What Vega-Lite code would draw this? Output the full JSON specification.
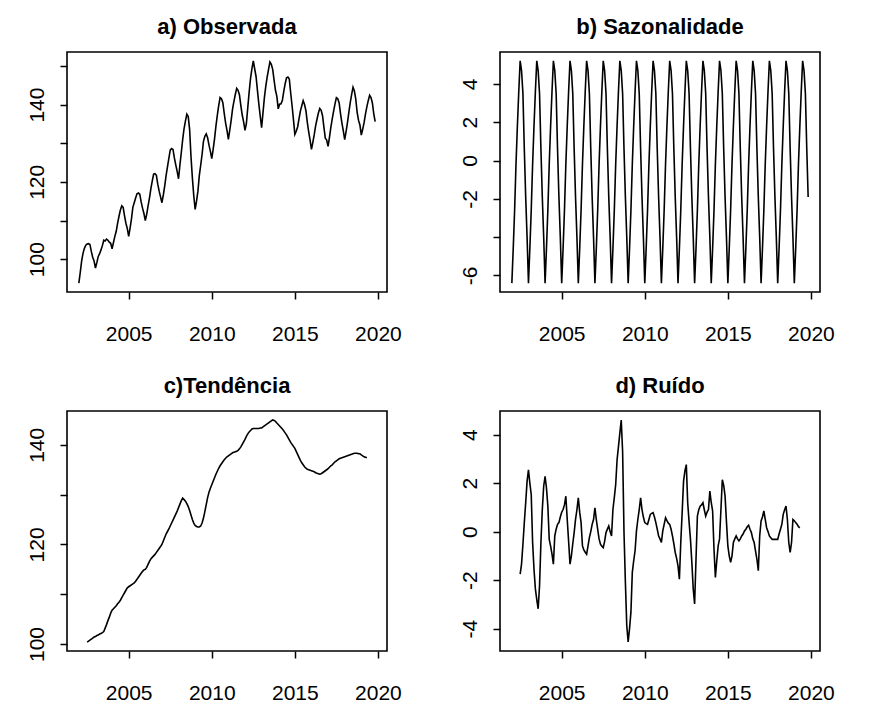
{
  "$schema": "https://vega.github.io/schema/vega-lite/v6.json",
  "autosize": {"type": "none"},
  "padding": {"left": 67, "top": 52, "right": 810, "bottom": 657},
  "background": "white",
  "data": {"values": [
    {"t": 2002.0000, "obs": 93.8, "saz": -6.4, "tend": null, "ruido": null},
    {"t": 2002.0833, "obs": 96.5, "saz": -4.6, "tend": null, "ruido": null},
    {"t": 2002.1667, "obs": 99.5, "saz": -2.6, "tend": null, "ruido": null},
    {"t": 2002.2500, "obs": 101.5, "saz": -0.2, "tend": null, "ruido": null},
    {"t": 2002.3333, "obs": 102.8, "saz": 1.8, "tend": null, "ruido": null},
    {"t": 2002.4167, "obs": 103.6, "saz": 3.6, "tend": null, "ruido": null},
    {"t": 2002.5000, "obs": 103.9, "saz": 5.2, "tend": 100.4, "ruido": -1.75},
    {"t": 2002.5833, "obs": 104.0, "saz": 4.7, "tend": 100.6, "ruido": -1.34},
    {"t": 2002.6667, "obs": 103.8, "saz": 3.5, "tend": 100.8, "ruido": -0.52},
    {"t": 2002.7500, "obs": 102.0, "saz": 0.6, "tend": 101.0, "ruido": 0.37},
    {"t": 2002.8333, "obs": 100.5, "saz": -1.9, "tend": 101.2, "ruido": 1.19},
    {"t": 2002.9167, "obs": 99.5, "saz": -4.0, "tend": 101.4, "ruido": 2.07},
    {"t": 2003.0000, "obs": 97.7, "saz": -6.4, "tend": 101.5, "ruido": 2.55},
    {"t": 2003.0833, "obs": 99.1, "saz": -4.6, "tend": 101.7, "ruido": 2.0},
    {"t": 2003.1667, "obs": 100.7, "saz": -2.6, "tend": 101.8, "ruido": 1.53},
    {"t": 2003.2500, "obs": 101.4, "saz": -0.2, "tend": 102.0, "ruido": -0.45},
    {"t": 2003.3333, "obs": 102.4, "saz": 1.8, "tend": 102.1, "ruido": -1.55},
    {"t": 2003.4167, "obs": 103.5, "saz": 3.6, "tend": 102.3, "ruido": -2.36},
    {"t": 2003.5000, "obs": 104.9, "saz": 5.2, "tend": 102.5, "ruido": -2.8},
    {"t": 2003.5833, "obs": 104.7, "saz": 4.7, "tend": 103.2, "ruido": -3.18},
    {"t": 2003.6667, "obs": 105.2, "saz": 3.5, "tend": 103.9, "ruido": -2.23},
    {"t": 2003.7500, "obs": 104.9, "saz": 0.6, "tend": 104.7, "ruido": -0.45},
    {"t": 2003.8333, "obs": 104.4, "saz": -1.9, "tend": 105.4, "ruido": 0.91},
    {"t": 2003.9167, "obs": 104.1, "saz": -4.0, "tend": 106.2, "ruido": 1.87},
    {"t": 2004.0000, "obs": 102.7, "saz": -6.4, "tend": 106.8, "ruido": 2.28},
    {"t": 2004.0833, "obs": 104.3, "saz": -4.6, "tend": 107.1, "ruido": 1.8},
    {"t": 2004.1667, "obs": 105.9, "saz": -2.6, "tend": 107.4, "ruido": 1.05},
    {"t": 2004.2500, "obs": 107.2, "saz": -0.2, "tend": 107.7, "ruido": -0.32},
    {"t": 2004.3333, "obs": 109.3, "saz": 1.8, "tend": 108.1, "ruido": -0.6},
    {"t": 2004.4167, "obs": 111.1, "saz": 3.6, "tend": 108.4, "ruido": -0.93},
    {"t": 2004.5000, "obs": 112.7, "saz": 5.2, "tend": 108.8, "ruido": -1.34},
    {"t": 2004.5833, "obs": 113.8, "saz": 4.7, "tend": 109.3, "ruido": -0.18},
    {"t": 2004.6667, "obs": 113.4, "saz": 3.5, "tend": 109.8, "ruido": 0.1},
    {"t": 2004.7500, "obs": 111.2, "saz": 0.6, "tend": 110.3, "ruido": 0.3},
    {"t": 2004.8333, "obs": 109.3, "saz": -1.9, "tend": 110.8, "ruido": 0.37},
    {"t": 2004.9167, "obs": 107.9, "saz": -4.0, "tend": 111.3, "ruido": 0.6},
    {"t": 2005.0000, "obs": 105.9, "saz": -6.4, "tend": 111.5, "ruido": 0.8},
    {"t": 2005.0833, "obs": 108.0, "saz": -4.6, "tend": 111.7, "ruido": 0.91},
    {"t": 2005.1667, "obs": 110.4, "saz": -2.6, "tend": 111.9, "ruido": 1.1},
    {"t": 2005.2500, "obs": 113.4, "saz": -0.2, "tend": 112.1, "ruido": 1.46},
    {"t": 2005.3333, "obs": 114.6, "saz": 1.8, "tend": 112.3, "ruido": 0.5},
    {"t": 2005.4167, "obs": 115.8, "saz": 3.6, "tend": 112.6, "ruido": -0.4},
    {"t": 2005.5000, "obs": 116.9, "saz": 5.2, "tend": 113.0, "ruido": -1.34},
    {"t": 2005.5833, "obs": 117.1, "saz": 4.7, "tend": 113.4, "ruido": -1.0},
    {"t": 2005.6667, "obs": 116.8, "saz": 3.5, "tend": 113.8, "ruido": -0.5},
    {"t": 2005.7500, "obs": 114.8, "saz": 0.6, "tend": 114.2, "ruido": -0.04},
    {"t": 2005.8333, "obs": 113.2, "saz": -1.9, "tend": 114.6, "ruido": 0.5},
    {"t": 2005.9167, "obs": 111.8, "saz": -4.0, "tend": 114.9, "ruido": 0.9},
    {"t": 2006.0000, "obs": 110.0, "saz": -6.4, "tend": 115.0, "ruido": 1.39},
    {"t": 2006.0833, "obs": 111.6, "saz": -4.6, "tend": 115.4, "ruido": 0.8},
    {"t": 2006.1667, "obs": 113.8, "saz": -2.6, "tend": 116.0, "ruido": 0.37},
    {"t": 2006.2500, "obs": 115.8, "saz": -0.2, "tend": 116.6, "ruido": -0.59},
    {"t": 2006.3333, "obs": 118.2, "saz": 1.8, "tend": 117.1, "ruido": -0.75},
    {"t": 2006.4167, "obs": 120.2, "saz": 3.6, "tend": 117.4, "ruido": -0.85},
    {"t": 2006.5000, "obs": 122.0, "saz": 5.2, "tend": 117.7, "ruido": -0.93},
    {"t": 2006.5833, "obs": 122.1, "saz": 4.7, "tend": 118.0, "ruido": -0.6},
    {"t": 2006.6667, "obs": 121.7, "saz": 3.5, "tend": 118.4, "ruido": -0.25},
    {"t": 2006.7500, "obs": 119.4, "saz": 0.6, "tend": 118.8, "ruido": 0.0},
    {"t": 2006.8333, "obs": 117.6, "saz": -1.9, "tend": 119.2, "ruido": 0.3},
    {"t": 2006.9167, "obs": 116.1, "saz": -4.0, "tend": 119.6, "ruido": 0.5},
    {"t": 2007.0000, "obs": 114.6, "saz": -6.4, "tend": 120.0, "ruido": 0.98},
    {"t": 2007.0833, "obs": 116.6, "saz": -4.6, "tend": 120.7, "ruido": 0.5},
    {"t": 2007.1667, "obs": 118.9, "saz": -2.6, "tend": 121.4, "ruido": 0.09},
    {"t": 2007.2500, "obs": 121.6, "saz": -0.2, "tend": 122.1, "ruido": -0.3},
    {"t": 2007.3333, "obs": 123.9, "saz": 1.8, "tend": 122.6, "ruido": -0.52},
    {"t": 2007.4167, "obs": 126.1, "saz": 3.6, "tend": 123.1, "ruido": -0.6},
    {"t": 2007.5000, "obs": 128.2, "saz": 5.2, "tend": 123.7, "ruido": -0.66},
    {"t": 2007.5833, "obs": 128.6, "saz": 4.7, "tend": 124.3, "ruido": -0.4},
    {"t": 2007.6667, "obs": 128.4, "saz": 3.5, "tend": 124.9, "ruido": -0.04},
    {"t": 2007.7500, "obs": 126.2, "saz": 0.6, "tend": 125.5, "ruido": 0.1},
    {"t": 2007.8333, "obs": 124.4, "saz": -1.9, "tend": 126.1, "ruido": 0.23},
    {"t": 2007.9167, "obs": 122.7, "saz": -4.0, "tend": 126.7, "ruido": 0.0},
    {"t": 2008.0000, "obs": 120.8, "saz": -6.4, "tend": 127.4, "ruido": -0.18},
    {"t": 2008.0833, "obs": 124.4, "saz": -4.6, "tend": 128.1, "ruido": 0.91},
    {"t": 2008.1667, "obs": 127.6, "saz": -2.6, "tend": 128.8, "ruido": 1.4},
    {"t": 2008.2500, "obs": 131.0, "saz": -0.2, "tend": 129.3, "ruido": 1.94},
    {"t": 2008.3333, "obs": 133.8, "saz": 1.8, "tend": 129.0, "ruido": 2.96},
    {"t": 2008.4167, "obs": 135.8, "saz": 3.6, "tend": 128.7, "ruido": 3.5},
    {"t": 2008.5000, "obs": 137.5, "saz": 5.2, "tend": 128.2, "ruido": 4.06},
    {"t": 2008.5833, "obs": 136.9, "saz": 4.7, "tend": 127.6, "ruido": 4.6},
    {"t": 2008.6667, "obs": 133.6, "saz": 3.5, "tend": 126.8, "ruido": 3.3},
    {"t": 2008.7500, "obs": 126.5, "saz": 0.6, "tend": 125.9, "ruido": -0.04},
    {"t": 2008.8333, "obs": 121.0, "saz": -1.9, "tend": 125.0, "ruido": -2.09},
    {"t": 2008.9167, "obs": 116.4, "saz": -4.0, "tend": 124.3, "ruido": -3.87},
    {"t": 2009.0000, "obs": 112.9, "saz": -6.4, "tend": 123.8, "ruido": -4.55},
    {"t": 2009.0833, "obs": 115.0, "saz": -4.6, "tend": 123.6, "ruido": -4.0},
    {"t": 2009.1667, "obs": 117.6, "saz": -2.6, "tend": 123.5, "ruido": -3.32},
    {"t": 2009.2500, "obs": 121.6, "saz": -0.2, "tend": 123.5, "ruido": -1.68},
    {"t": 2009.3333, "obs": 124.3, "saz": 1.8, "tend": 123.7, "ruido": -1.2},
    {"t": 2009.4167, "obs": 127.1, "saz": 3.6, "tend": 124.3, "ruido": -0.79},
    {"t": 2009.5000, "obs": 130.5, "saz": 5.2, "tend": 125.3, "ruido": 0.03},
    {"t": 2009.5833, "obs": 131.8, "saz": 4.7, "tend": 126.6, "ruido": 0.5},
    {"t": 2009.6667, "obs": 132.4, "saz": 3.5, "tend": 128.0, "ruido": 0.91},
    {"t": 2009.7500, "obs": 131.4, "saz": 0.6, "tend": 129.4, "ruido": 1.39},
    {"t": 2009.8333, "obs": 129.5, "saz": -1.9, "tend": 130.5, "ruido": 0.91},
    {"t": 2009.9167, "obs": 127.9, "saz": -4.0, "tend": 131.3, "ruido": 0.6},
    {"t": 2010.0000, "obs": 126.0, "saz": -6.4, "tend": 132.0, "ruido": 0.37},
    {"t": 2010.0833, "obs": 128.4, "saz": -4.6, "tend": 132.7, "ruido": 0.33},
    {"t": 2010.1667, "obs": 131.1, "saz": -2.6, "tend": 133.4, "ruido": 0.3},
    {"t": 2010.2500, "obs": 134.4, "saz": -0.2, "tend": 134.1, "ruido": 0.5},
    {"t": 2010.3333, "obs": 137.2, "saz": 1.8, "tend": 134.7, "ruido": 0.71},
    {"t": 2010.4167, "obs": 139.7, "saz": 3.6, "tend": 135.3, "ruido": 0.75},
    {"t": 2010.5000, "obs": 141.8, "saz": 5.2, "tend": 135.8, "ruido": 0.78},
    {"t": 2010.5833, "obs": 141.5, "saz": 4.7, "tend": 136.2, "ruido": 0.6},
    {"t": 2010.6667, "obs": 140.5, "saz": 3.5, "tend": 136.6, "ruido": 0.37},
    {"t": 2010.7500, "obs": 137.7, "saz": 0.6, "tend": 137.0, "ruido": 0.1},
    {"t": 2010.8333, "obs": 135.2, "saz": -1.9, "tend": 137.3, "ruido": -0.18},
    {"t": 2010.9167, "obs": 133.3, "saz": -4.0, "tend": 137.6, "ruido": -0.3},
    {"t": 2011.0000, "obs": 131.0, "saz": -6.4, "tend": 137.8, "ruido": -0.45},
    {"t": 2011.0833, "obs": 133.4, "saz": -4.6, "tend": 138.0, "ruido": 0.03},
    {"t": 2011.1667, "obs": 135.9, "saz": -2.6, "tend": 138.2, "ruido": 0.3},
    {"t": 2011.2500, "obs": 138.8, "saz": -0.2, "tend": 138.4, "ruido": 0.57},
    {"t": 2011.3333, "obs": 140.8, "saz": 1.8, "tend": 138.5, "ruido": 0.45},
    {"t": 2011.4167, "obs": 142.6, "saz": 3.6, "tend": 138.6, "ruido": 0.35},
    {"t": 2011.5000, "obs": 144.2, "saz": 5.2, "tend": 138.7, "ruido": 0.3},
    {"t": 2011.5833, "obs": 143.7, "saz": 4.7, "tend": 138.9, "ruido": 0.1},
    {"t": 2011.6667, "obs": 142.5, "saz": 3.5, "tend": 139.2, "ruido": -0.18},
    {"t": 2011.7500, "obs": 139.7, "saz": 0.6, "tend": 139.6, "ruido": -0.5},
    {"t": 2011.8333, "obs": 137.3, "saz": -1.9, "tend": 140.1, "ruido": -0.86},
    {"t": 2011.9167, "obs": 135.5, "saz": -4.0, "tend": 140.6, "ruido": -1.1},
    {"t": 2012.0000, "obs": 133.3, "saz": -6.4, "tend": 141.1, "ruido": -1.41},
    {"t": 2012.0833, "obs": 135.1, "saz": -4.6, "tend": 141.7, "ruido": -1.96},
    {"t": 2012.1667, "obs": 139.2, "saz": -2.6, "tend": 142.2, "ruido": -0.45},
    {"t": 2012.2500, "obs": 143.2, "saz": -0.2, "tend": 142.6, "ruido": 0.78},
    {"t": 2012.3333, "obs": 146.8, "saz": 1.8, "tend": 142.9, "ruido": 2.07},
    {"t": 2012.4167, "obs": 149.3, "saz": 3.6, "tend": 143.2, "ruido": 2.5},
    {"t": 2012.5000, "obs": 151.3, "saz": 5.2, "tend": 143.3, "ruido": 2.76},
    {"t": 2012.5833, "obs": 149.2, "saz": 4.7, "tend": 143.3, "ruido": 1.19},
    {"t": 2012.6667, "obs": 147.2, "saz": 3.5, "tend": 143.3, "ruido": 0.4},
    {"t": 2012.7500, "obs": 143.6, "saz": 0.6, "tend": 143.3, "ruido": -0.32},
    {"t": 2012.8333, "obs": 140.1, "saz": -1.9, "tend": 143.3, "ruido": -1.27},
    {"t": 2012.9167, "obs": 137.0, "saz": -4.0, "tend": 143.4, "ruido": -2.36},
    {"t": 2013.0000, "obs": 134.0, "saz": -6.4, "tend": 143.4, "ruido": -2.98},
    {"t": 2013.0833, "obs": 137.9, "saz": -4.6, "tend": 143.6, "ruido": -1.14},
    {"t": 2013.1667, "obs": 141.8, "saz": -2.6, "tend": 143.8, "ruido": 0.64},
    {"t": 2013.2500, "obs": 144.7, "saz": -0.2, "tend": 144.0, "ruido": 0.9},
    {"t": 2013.3333, "obs": 147.1, "saz": 1.8, "tend": 144.2, "ruido": 1.05},
    {"t": 2013.4167, "obs": 149.1, "saz": 3.6, "tend": 144.4, "ruido": 1.1},
    {"t": 2013.5000, "obs": 151.0, "saz": 5.2, "tend": 144.6, "ruido": 1.19},
    {"t": 2013.5833, "obs": 150.4, "saz": 4.7, "tend": 144.8, "ruido": 0.9},
    {"t": 2013.6667, "obs": 149.1, "saz": 3.5, "tend": 145.0, "ruido": 0.64},
    {"t": 2013.7500, "obs": 146.3, "saz": 0.6, "tend": 144.9, "ruido": 0.8},
    {"t": 2013.8333, "obs": 143.7, "saz": -1.9, "tend": 144.7, "ruido": 0.91},
    {"t": 2013.9167, "obs": 142.1, "saz": -4.0, "tend": 144.4, "ruido": 1.67},
    {"t": 2014.0000, "obs": 138.9, "saz": -6.4, "tend": 144.1, "ruido": 1.2},
    {"t": 2014.0833, "obs": 140.1, "saz": -4.6, "tend": 143.8, "ruido": 0.85},
    {"t": 2014.1667, "obs": 140.2, "saz": -2.6, "tend": 143.5, "ruido": -0.73},
    {"t": 2014.2500, "obs": 141.1, "saz": -0.2, "tend": 143.2, "ruido": -1.89},
    {"t": 2014.3333, "obs": 143.4, "saz": 1.8, "tend": 142.8, "ruido": -1.2},
    {"t": 2014.4167, "obs": 145.4, "saz": 3.6, "tend": 142.4, "ruido": -0.59},
    {"t": 2014.5000, "obs": 146.9, "saz": 5.2, "tend": 142.0, "ruido": -0.3},
    {"t": 2014.5833, "obs": 147.1, "saz": 4.7, "tend": 141.5, "ruido": 0.9},
    {"t": 2014.6667, "obs": 146.6, "saz": 3.5, "tend": 141.0, "ruido": 2.14},
    {"t": 2014.7500, "obs": 143.0, "saz": 0.6, "tend": 140.5, "ruido": 1.9},
    {"t": 2014.8333, "obs": 139.7, "saz": -1.9, "tend": 140.1, "ruido": 1.46},
    {"t": 2014.9167, "obs": 136.1, "saz": -4.0, "tend": 139.7, "ruido": 0.4},
    {"t": 2015.0000, "obs": 132.3, "saz": -6.4, "tend": 139.3, "ruido": -0.59},
    {"t": 2015.0833, "obs": 133.1, "saz": -4.6, "tend": 138.7, "ruido": -1.0},
    {"t": 2015.1667, "obs": 134.2, "saz": -2.6, "tend": 138.1, "ruido": -1.27},
    {"t": 2015.2500, "obs": 136.3, "saz": -0.2, "tend": 137.5, "ruido": -1.0},
    {"t": 2015.3333, "obs": 138.3, "saz": 1.8, "tend": 136.9, "ruido": -0.45},
    {"t": 2015.4167, "obs": 139.7, "saz": 3.6, "tend": 136.4, "ruido": -0.3},
    {"t": 2015.5000, "obs": 141.0, "saz": 5.2, "tend": 136.0, "ruido": -0.18},
    {"t": 2015.5833, "obs": 140.0, "saz": 4.7, "tend": 135.6, "ruido": -0.3},
    {"t": 2015.6667, "obs": 138.4, "saz": 3.5, "tend": 135.3, "ruido": -0.38},
    {"t": 2015.7500, "obs": 135.4, "saz": 0.6, "tend": 135.1, "ruido": -0.3},
    {"t": 2015.8333, "obs": 132.9, "saz": -1.9, "tend": 135.0, "ruido": -0.18},
    {"t": 2015.9167, "obs": 130.8, "saz": -4.0, "tend": 134.9, "ruido": -0.1},
    {"t": 2016.0000, "obs": 128.4, "saz": -6.4, "tend": 134.8, "ruido": 0.03},
    {"t": 2016.0833, "obs": 130.2, "saz": -4.6, "tend": 134.7, "ruido": 0.1},
    {"t": 2016.1667, "obs": 132.2, "saz": -2.6, "tend": 134.6, "ruido": 0.2},
    {"t": 2016.2500, "obs": 134.5, "saz": -0.2, "tend": 134.4, "ruido": 0.26},
    {"t": 2016.3333, "obs": 136.2, "saz": 1.8, "tend": 134.3, "ruido": 0.1},
    {"t": 2016.4167, "obs": 137.8, "saz": 3.6, "tend": 134.2, "ruido": -0.04},
    {"t": 2016.5000, "obs": 139.0, "saz": 5.2, "tend": 134.1, "ruido": -0.3},
    {"t": 2016.5833, "obs": 138.5, "saz": 4.7, "tend": 134.2, "ruido": -0.45},
    {"t": 2016.6667, "obs": 137.1, "saz": 3.5, "tend": 134.4, "ruido": -0.8},
    {"t": 2016.7500, "obs": 134.1, "saz": 0.6, "tend": 134.6, "ruido": -1.14},
    {"t": 2016.8333, "obs": 131.3, "saz": -1.9, "tend": 134.8, "ruido": -1.61},
    {"t": 2016.9167, "obs": 130.8, "saz": -4.0, "tend": 135.0, "ruido": -0.18},
    {"t": 2017.0000, "obs": 129.2, "saz": -6.4, "tend": 135.2, "ruido": 0.44},
    {"t": 2017.0833, "obs": 131.5, "saz": -4.6, "tend": 135.5, "ruido": 0.6},
    {"t": 2017.1667, "obs": 134.1, "saz": -2.6, "tend": 135.8, "ruido": 0.85},
    {"t": 2017.2500, "obs": 136.3, "saz": -0.2, "tend": 136.0, "ruido": 0.5},
    {"t": 2017.3333, "obs": 138.3, "saz": 1.8, "tend": 136.3, "ruido": 0.16},
    {"t": 2017.4167, "obs": 140.2, "saz": 3.6, "tend": 136.6, "ruido": 0.0},
    {"t": 2017.5000, "obs": 141.8, "saz": 5.2, "tend": 136.8, "ruido": -0.18},
    {"t": 2017.5833, "obs": 141.5, "saz": 4.7, "tend": 137.0, "ruido": -0.25},
    {"t": 2017.6667, "obs": 140.4, "saz": 3.5, "tend": 137.2, "ruido": -0.32},
    {"t": 2017.7500, "obs": 137.6, "saz": 0.6, "tend": 137.3, "ruido": -0.32},
    {"t": 2017.8333, "obs": 135.2, "saz": -1.9, "tend": 137.4, "ruido": -0.32},
    {"t": 2017.9167, "obs": 133.2, "saz": -4.0, "tend": 137.5, "ruido": -0.32},
    {"t": 2018.0000, "obs": 130.9, "saz": -6.4, "tend": 137.6, "ruido": -0.32},
    {"t": 2018.0833, "obs": 133.0, "saz": -4.6, "tend": 137.7, "ruido": -0.1},
    {"t": 2018.1667, "obs": 135.3, "saz": -2.6, "tend": 137.8, "ruido": 0.1},
    {"t": 2018.2500, "obs": 138.0, "saz": -0.2, "tend": 137.9, "ruido": 0.3},
    {"t": 2018.3333, "obs": 140.5, "saz": 1.8, "tend": 138.0, "ruido": 0.71},
    {"t": 2018.4167, "obs": 142.6, "saz": 3.6, "tend": 138.1, "ruido": 0.9},
    {"t": 2018.5000, "obs": 144.5, "saz": 5.2, "tend": 138.2, "ruido": 1.05},
    {"t": 2018.5833, "obs": 143.5, "saz": 4.7, "tend": 138.3, "ruido": 0.5},
    {"t": 2018.6667, "obs": 141.4, "saz": 3.5, "tend": 138.3, "ruido": -0.45},
    {"t": 2018.7500, "obs": 138.0, "saz": 0.6, "tend": 138.3, "ruido": -0.86},
    {"t": 2018.8333, "obs": 135.9, "saz": -1.9, "tend": 138.2, "ruido": -0.45},
    {"t": 2018.9167, "obs": 134.7, "saz": -4.0, "tend": 138.2, "ruido": 0.5},
    {"t": 2019.0000, "obs": 132.1, "saz": -6.4, "tend": 138.0, "ruido": 0.45},
    {"t": 2019.0833, "obs": 133.6, "saz": -4.6, "tend": 137.8, "ruido": 0.37},
    {"t": 2019.1667, "obs": 135.3, "saz": -2.6, "tend": 137.6, "ruido": 0.3},
    {"t": 2019.2500, "obs": 137.5, "saz": -0.2, "tend": 137.5, "ruido": 0.2},
    {"t": 2019.3333, "obs": 139.4, "saz": 1.8, "tend": 137.4, "ruido": 0.16},
    {"t": 2019.4167, "obs": 141.0, "saz": 3.6, "tend": null, "ruido": null},
    {"t": 2019.5000, "obs": 142.4, "saz": 5.2, "tend": null, "ruido": null},
    {"t": 2019.5833, "obs": 141.8, "saz": 4.7, "tend": null, "ruido": null},
    {"t": 2019.6667, "obs": 140.4, "saz": 3.5, "tend": null, "ruido": null},
    {"t": 2019.7500, "obs": 137.6, "saz": 0.6, "tend": null, "ruido": null},
    {"t": 2019.8333, "obs": 135.6, "saz": -1.9, "tend": null, "ruido": null}
  ]},
  "columns": 2,
  "spacing": {"row": 119, "column": 113},
  "bounds": "flush",
  "concat": [
    {
      "title": "a) Observada",
      "width": 320,
      "height": 240,
      "mark": {"type": "line", "clip": true},
      "encoding": {
        "x": {"field": "t", "type": "quantitative", "scale": {"domain": [2001.287, 2020.546], "nice": false, "zero": false}, "axis": {"values": [2005, 2010, 2015, 2020], "format": "d", "title": null}},
        "y": {"field": "obs", "type": "quantitative", "scale": {"domain": [91.5, 153.6], "nice": false, "zero": false}, "axis": {"values": [100, 110, 120, 130, 140, 150], "labelExpr": "datum.value % 20 == 0 ? toString(datum.value) : ''", "title": null}}
      }
    },
    {
      "title": "b) Sazonalidade",
      "width": 320,
      "height": 240,
      "mark": {"type": "line", "clip": true},
      "encoding": {
        "x": {"field": "t", "type": "quantitative", "scale": {"domain": [2001.287, 2020.546], "nice": false, "zero": false}, "axis": {"values": [2005, 2010, 2015, 2020], "format": "d", "title": null}},
        "y": {"field": "saz", "type": "quantitative", "scale": {"domain": [-6.864, 5.664], "nice": false, "zero": false}, "axis": {"values": [-6, -4, -2, 0, 2, 4], "labelExpr": "datum.value == -4 ? '' : toString(datum.value)", "title": null}}
      }
    },
    {
      "title": "c)Tendência",
      "width": 320,
      "height": 240,
      "transform": [{"filter": "datum.tend != null"}],
      "mark": {"type": "line", "clip": true},
      "encoding": {
        "x": {"field": "t", "type": "quantitative", "scale": {"domain": [2001.287, 2020.546], "nice": false, "zero": false}, "axis": {"values": [2005, 2010, 2015, 2020], "format": "d", "title": null}},
        "y": {"field": "tend", "type": "quantitative", "scale": {"domain": [98.6, 146.8], "nice": false, "zero": false}, "axis": {"values": [100, 110, 120, 130, 140], "labelExpr": "datum.value % 20 == 0 ? toString(datum.value) : ''", "title": null}}
      }
    },
    {
      "title": "d) Ruído",
      "width": 320,
      "height": 240,
      "transform": [{"filter": "datum.ruido != null"}],
      "mark": {"type": "line", "clip": true},
      "encoding": {
        "x": {"field": "t", "type": "quantitative", "scale": {"domain": [2001.287, 2020.546], "nice": false, "zero": false}, "axis": {"values": [2005, 2010, 2015, 2020], "format": "d", "title": null}},
        "y": {"field": "ruido", "type": "quantitative", "scale": {"domain": [-4.92, 4.97], "nice": false, "zero": false}, "axis": {"values": [-4, -2, 0, 2, 4], "labelExpr": "toString(datum.value)", "title": null}}
      }
    }
  ],
  "config": {
    "view": {"stroke": "#000", "strokeWidth": 1.6},
    "line": {"color": "#000", "strokeWidth": 1.6},
    "axis": {
      "domain": false,
      "grid": false,
      "ticks": true,
      "tickSize": 7,
      "tickColor": "#000",
      "tickWidth": 1.5,
      "labelFont": "Liberation Sans",
      "labelFontSize": 21,
      "labelColor": "#000",
      "labelFlush": false,
      "labelOverlap": false
    },
    "axisX": {"labelPadding": 24},
    "axisY": {"labelAngle": 270, "labelAlign": "center", "labelBaseline": "alphabetic", "labelPadding": 17},
    "title": {"font": "Liberation Sans", "fontSize": 22, "fontWeight": "bold", "color": "#000", "anchor": "middle", "baseline": "alphabetic", "offset": 13, "frame": "group"}
  }
}
